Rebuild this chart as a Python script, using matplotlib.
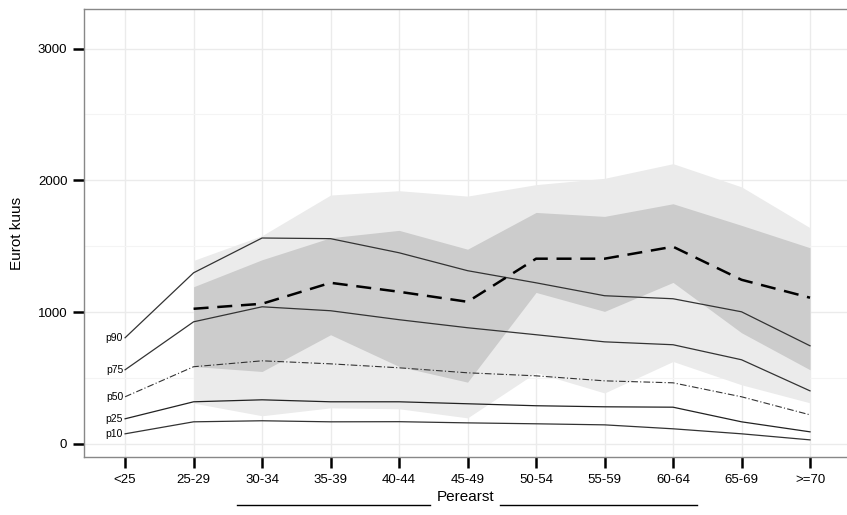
import numpy as np
import matplotlib.pyplot as plt
from matplotlib.lines import Line2D

plt.rcParams['font.family'] = ['Liberation Sans', 'DejaVu Sans']

groups = ['<25', '25-29', '30-34', '35-39', '40-44', '45-49', '50-54', '55-59', '60-64', '65-69', '>=70']

# percentile lines (all age groups)
p90 = [805, 1298, 1562, 1557, 1450, 1314, 1222, 1124, 1101, 1002, 744]
p75 = [562, 926, 1040, 1010, 942, 881, 828, 774, 752, 638, 402]
p50 = [357, 585, 630, 607, 577, 539, 516, 478, 463, 357, 220]
p25 = [190, 319, 334, 319, 319, 304, 289, 281, 278, 167, 91]
p10 = [76, 167, 175, 167, 168, 159, 152, 144, 114, 76, 30]

# family doctors (from 25-29 on)
fd_median = [1025, 1063, 1222, 1154, 1078, 1405, 1405, 1496, 1245, 1109]
fd_outer_hi = [1392, 1580, 1888, 1921, 1880, 1967, 2015, 2126, 1950, 1640]
fd_outer_lo = [309, 213, 273, 266, 197, 541, 386, 625, 448, 311]
fd_inner_hi = [1192, 1397, 1564, 1620, 1477, 1756, 1726, 1822, 1658, 1488]
fd_inner_lo = [587, 549, 828, 587, 468, 1149, 1005, 1225, 843, 562]

pct_labels = ['p90', 'p75', 'p50', 'p25', 'p10']

fig = plt.figure(figsize=(8.47, 5.15), dpi=100)
ax = fig.add_axes([84/847, 1-457/515, 1-84/847, 448/515])

x = np.arange(len(groups))
xf = x[1:]

ax.fill_between(xf, fd_outer_lo, fd_outer_hi, color='#ebebeb', lw=0, zorder=1)
ax.fill_between(xf, fd_inner_lo, fd_inner_hi, color='#cccccc', lw=0, zorder=2)

ax.plot(x, p90, color='#333333', lw=0.9, zorder=3)
ax.plot(x, p75, color='#333333', lw=0.9, zorder=3)
ax.plot(x, p50, color='#333333', lw=0.8, ls=(0, (6, 2, 1, 2)), zorder=3)
ax.plot(x, p25, color='#222222', lw=0.9, zorder=3)
ax.plot(x, p10, color='#333333', lw=0.9, zorder=3)
ax.plot(xf, fd_median, color='black', lw=1.8, ls=(0, (6, 3.5)), zorder=4)

for lab, vals in zip(pct_labels, [p90, p75, p50, p25, p10]):
    ax.text(-0.03, vals[0], lab, ha='right', va='center', fontsize=7.5, zorder=5)

ax.set_xlim(-0.6, 10.54)
ax.set_ylim(-100, 3300)
ax.set_xticks(x)
ax.set_xticklabels(groups)
ax.set_yticks([0, 1000, 2000, 3000])
ax.set_yticks([500, 1500, 2500], minor=True)

ax.grid(which='major', color='#ebebeb', lw=1.0, zorder=0)
ax.grid(which='minor', axis='y', color='#f4f4f4', lw=0.8, zorder=0)
ax.set_axisbelow(True)

ax.tick_params(axis='both', which='major', length=8, width=1.8, color='black',
               labelsize=9.5, pad=4)
ax.tick_params(axis='y', which='minor', length=0)

for s in ['left', 'top', 'bottom']:
    ax.spines[s].set_color('#888888')
    ax.spines[s].set_linewidth(1.0)
ax.spines['right'].set_visible(False)

ax.set_ylabel('Eurot kuus', fontsize=11, labelpad=10)

fig.text(466/847, 1-497/515, 'Perearst', ha='center', va='center', fontsize=11)
fig.add_artist(Line2D([237/847, 430/847], [1-505/515, 1-505/515], color='black', lw=1.0))
fig.add_artist(Line2D([500/847, 697/847], [1-505/515, 1-505/515], color='black', lw=1.0))

fig.savefig('out.png', dpi=100)
